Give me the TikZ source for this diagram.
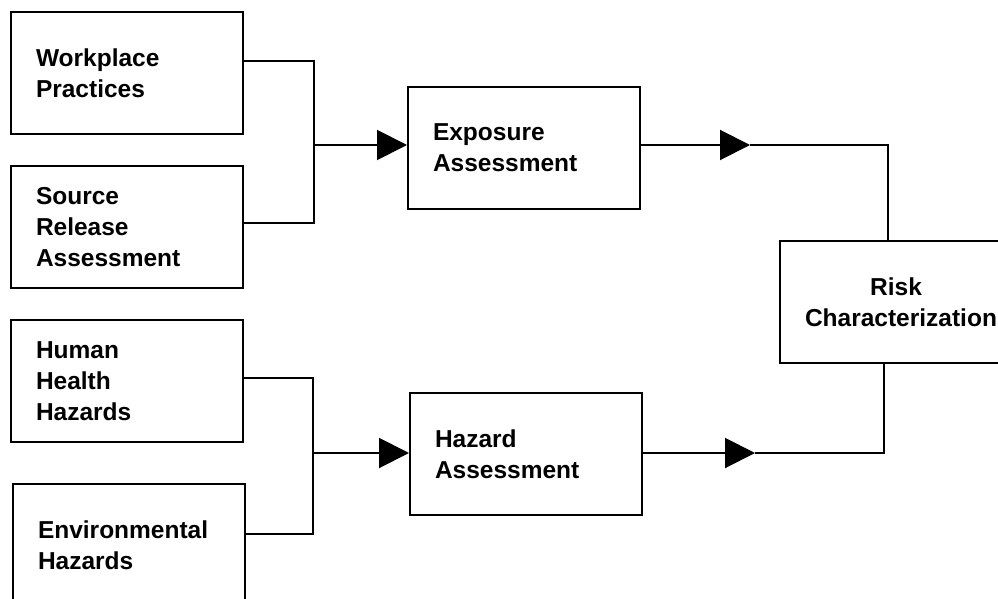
\documentclass[tikz,border=0pt]{standalone}
\usepackage{fontspec}
\setmainfont{Liberation Sans}
\usetikzlibrary{arrows.meta, positioning}

\begin{document}
\begin{tikzpicture}[x=1pt, y=-1pt,
  boxnode/.style={draw=black, line width=2pt, minimum width=232pt, minimum height=122pt, inner xsep=25pt, text width=182pt, align=left, font=\fontsize{24.5}{31}\selectfont\bfseries},
  bigtip/.style={-{Triangle[length=30pt, width=30pt]}, line width=2pt}]
\useasboundingbox (0,0) rectangle (998,599);
\node (wp) [boxnode] at (127,73) {Workplace\\Practices};
\node (src) [boxnode, below=30pt of wp] {Source\\Release\\Assessment};
\node (hh) [boxnode, below=30pt of src] {Human\\Health\\Hazards};
\node (env) [boxnode, below=40pt of hh, xshift=2pt] {Environmental\\Hazards};
\node (exp) [boxnode] at (524,148) {Exposure\\Assessment};
\node (haz) [boxnode, below=182pt of exp, xshift=2pt] {Hazard\\Assessment};
\node (risk) [boxnode, align=center] at (896,302) {Risk\\Characterization};
% junction points
\coordinate (j1) at (314,61);
\coordinate (j2) at (314,223);
\coordinate (j3) at (314,145);
\coordinate (j4) at (313,378);
\coordinate (j5) at (313,534);
\coordinate (j6) at (313,453);
\coordinate (a1) at (750,145);
\coordinate (c1) at (888,145);
\coordinate (a2) at (755,453);
\coordinate (c2) at (884,453);
\draw [line width=2pt] (wp.east |- j1) -- (j1) -- (j2) -- (src.east |- j2);
\draw [bigtip] (j3) -- (j3 -| exp.west);
\draw [line width=2pt] (hh.east |- j4) -- (j4) -- (j5) -- (env.east |- j5);
\draw [bigtip] (j6) -- (j6 -| haz.west);
\draw [bigtip] (exp.east |- a1) -- (a1);
\draw [line width=2pt] (a1) -- (c1) -- (c1 |- risk.north);
\draw [bigtip] (haz.east |- a2) -- (a2);
\draw [line width=2pt] (a2) -- (c2) -- (c2 |- risk.south);

\end{tikzpicture}
\end{document}
